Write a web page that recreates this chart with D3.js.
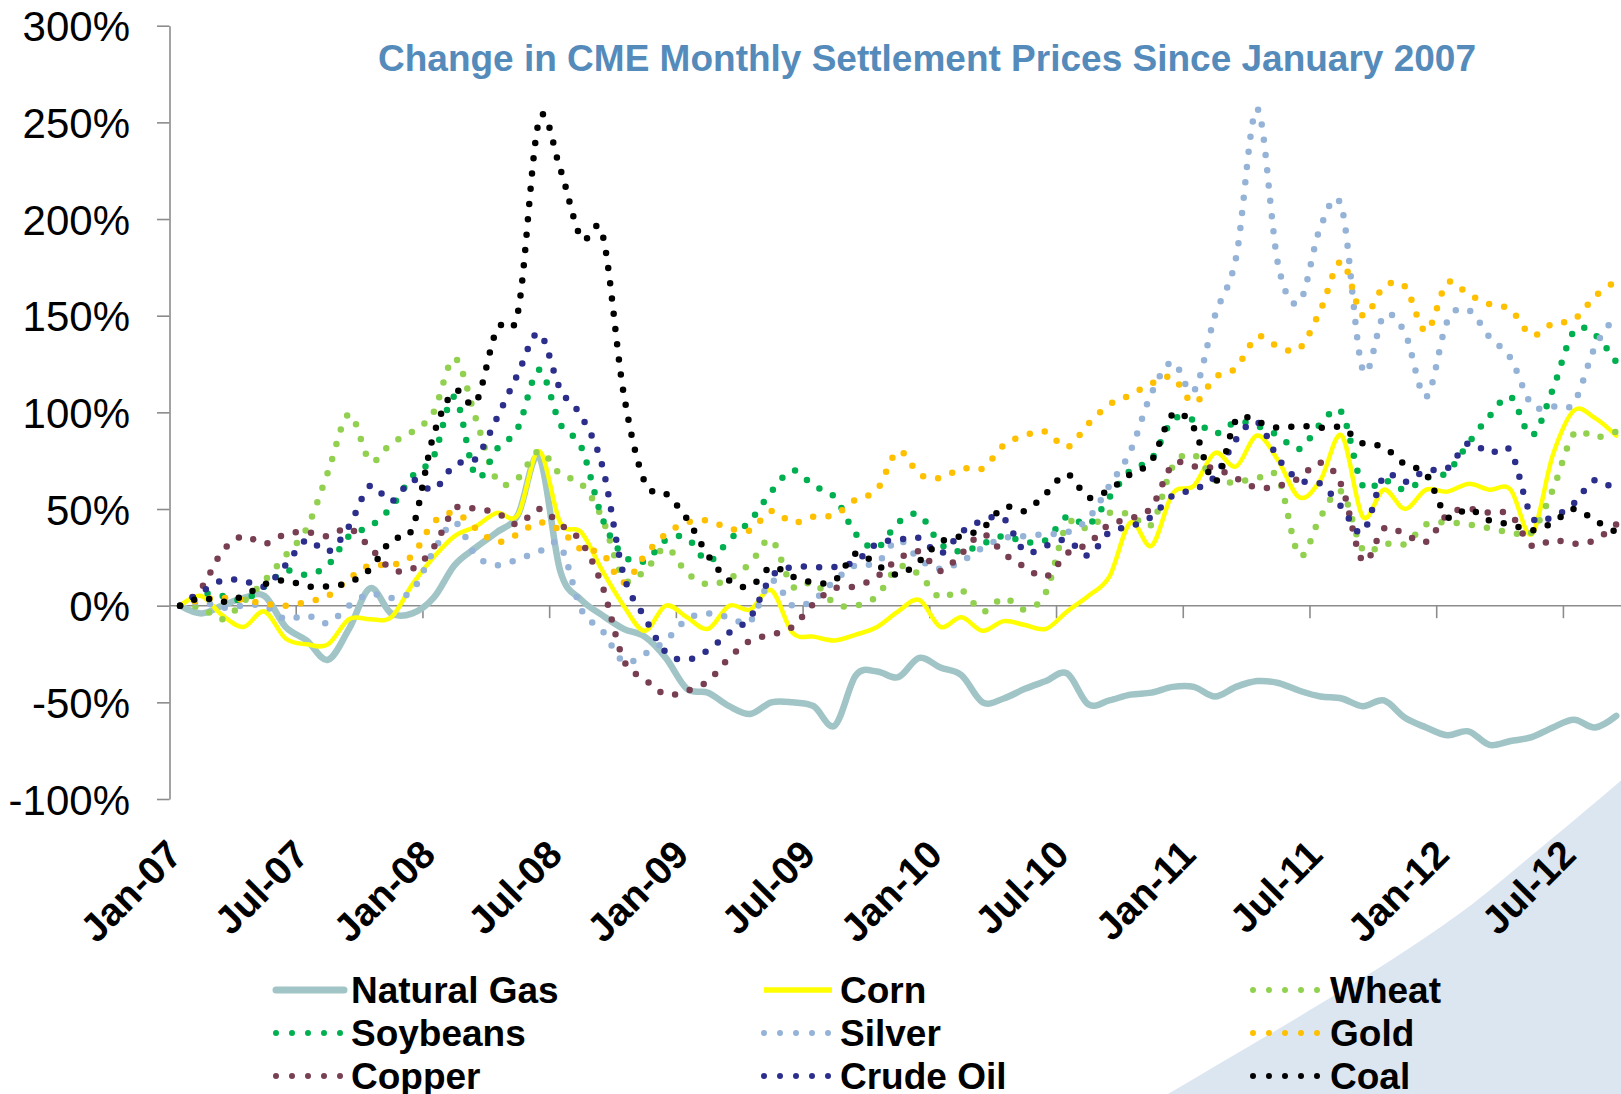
<!DOCTYPE html>
<html><head><meta charset="utf-8">
<script src="https://cdn.jsdelivr.net/npm/d3@7"></script>
<style>body{margin:0;background:#fff} svg{display:block}</style>
</head><body><svg id="chart" width="1621" height="1094"></svg>
<script>
// ---- categories & tick labels ----
const months = d3.timeMonth.range(new Date(2007,0,1), new Date(2012,9,1)).map(d3.timeFormat("%b-%y"));
const xTickLabels = ["Jan-07","Jul-07","Jan-08","Jul-08","Jan-09","Jul-09","Jan-10","Jul-10","Jan-11","Jul-11","Jan-12","Jul-12"];
const yTicks = [-100,-50,0,50,100,150,200,250,300];

// ---- series values (% change since Jan 2007), Jan-07 .. Sep-12 ----
const naturalGas = [0,-4,0,4,5,-11,-18,-28,-12,9,-4,-4,4,21,30,38,47,77,18,3,-5,-12,-16,-27,-43,-45,-52,-56,-50,-50,-52,-62,-36,-34,-37,-27,-32,-36,-50,-48,-43,-39,-35,-51,-49,-46,-45,-42,-42,-47,-42,-39,-40,-44,-47,-48,-52,-49,-58,-63,-67,-65,-72,-70,-68,-63,-59,-63,-57];
const corn = [0,5,-5,-11,-3,-17,-20,-20,-7,-7,-6,11,25,36,41,48,47,80,43,38,18,0,-13,0,-6,-12,0,-2,8,-14,-16,-18,-15,-11,-3,3,-11,-6,-13,-8,-10,-12,-3,5,15,43,31,58,62,79,72,88,75,56,65,88,46,60,50,60,59,63,60,60,37,78,101,97,88];
const wheat = [0,-1,-7,2,13,26,40,69,99,75,84,90,100,128,97,65,66,80,68,63,45,14,18,30,17,11,14,22,34,10,12,1,0,5,20,16,4,8,-3,4,-2,7,42,40,48,47,42,72,78,65,64,66,66,26,46,59,29,32,32,42,43,42,40,38,38,60,89,87,90];
const soybeans = [0,6,5,3,10,18,16,21,36,41,51,67,77,108,67,81,92,122,94,82,45,26,23,34,35,23,34,44,59,70,62,56,37,30,43,47,32,28,32,36,33,34,46,42,56,70,76,96,96,89,95,93,88,81,94,100,62,65,60,66,69,84,98,108,88,112,142,140,126];
const silver = [0,2,-1,0,0,-7,-5,-9,0,6,4,8,28,43,26,21,24,28,31,-2,-13,-29,-25,-18,-7,-4,-6,-8,13,0,3,13,21,22,34,24,19,23,30,35,36,37,38,45,62,80,110,126,111,150,180,257,176,157,196,206,122,150,141,108,147,153,139,128,104,103,105,134,150];
const gold = [0,3,4,3,1,0,2,5,14,21,21,26,43,48,40,33,37,43,39,29,27,12,26,37,43,44,40,39,49,43,46,47,55,60,80,68,66,71,71,83,88,90,82,94,104,109,115,118,105,118,123,139,134,133,153,178,150,165,165,142,167,161,156,153,140,146,148,160,168];
const copper = [0,9,28,36,32,37,38,36,40,30,19,19,30,50,50,48,42,50,42,33,10,-28,-38,-46,-44,-39,-27,-18,-15,-11,1,9,10,15,24,28,18,27,37,27,20,15,27,32,42,45,51,73,72,71,66,61,62,66,74,62,23,40,37,33,47,50,48,47,31,34,32,34,42];
const crudeOil = [0,7,13,13,10,21,34,28,41,62,54,65,60,73,76,97,120,141,112,98,72,16,-6,-24,-28,-23,-14,-6,15,20,20,20,23,32,34,35,27,38,44,45,28,31,34,26,38,41,46,57,60,67,86,95,76,65,63,51,38,67,64,70,71,84,79,80,46,46,53,65,59];
const coal = [0,4,2,5,11,13,10,10,12,19,34,40,88,111,105,143,152,251,226,190,192,110,64,58,45,26,13,10,20,15,12,13,27,21,16,23,33,36,40,51,49,58,68,56,60,68,75,99,92,64,96,95,92,93,92,92,84,82,73,68,46,50,44,42,39,43,50,44,38];

const seriesNames = ["Natural Gas","Corn","Wheat","Soybeans","Silver","Gold","Copper","Crude Oil","Coal"];
const seriesValues = [naturalGas,corn,wheat,soybeans,silver,gold,copper,crudeOil,coal];
const seriesColors = ["#a1c4c6","#ffff00","#92d050","#00b050","#95b3d7","#ffc000","#773f51","#2c2e8c","#000000"];
const seriesDotted = [false,false,true,true,true,true,true,true,true];

// ---- layout ----
const FONT = "'Liberation Sans', Arial, Helvetica, sans-serif";
const plotLeft = 169.5, band = 21.12;
const svg = d3.select("#chart");

const x = d3.scaleBand().domain(months).range([plotLeft, plotLeft + months.length * band]).padding(0);
const cx = m => x(m) + x.bandwidth() / 2;
const y = d3.scaleLinear().domain([-100, 300]).range([799, 25.7]);

// decorative swoosh (background)
svg.append("path")
  .attr("d", "M1168,1094 C1290,1022 1420,948 1490,890 C1550,840 1590,808 1640,764 L1640,1094 Z")
  .attr("fill", "#dce6f0");

// title
svg.append("text")
  .attr("x", 927).attr("y", 71)
  .attr("text-anchor", "middle")
  .attr("font-family", FONT).attr("font-weight", "bold").attr("font-size", 37)
  .attr("fill", "#558bba")
  .text("Change in CME Monthly Settlement Prices Since January 2007");

// y axis
const yAxis = svg.append("g")
  .attr("transform", `translate(${plotLeft},0)`)
  .call(d3.axisLeft(y).tickValues(yTicks).tickSize(12.5).tickSizeOuter(0).tickPadding(27).tickFormat(d => d + "%"));
yAxis.select(".domain").attr("stroke", "#8c8c8c").attr("stroke-width", 1.6);
yAxis.selectAll(".tick line").attr("stroke", "#8c8c8c").attr("stroke-width", 1.6);
yAxis.selectAll(".tick text")
  .attr("font-family", FONT).attr("font-size", 42).attr("fill", "#000").attr("dy", "0.36em");

// x axis line at 0%
const xAxis = svg.append("g");
xAxis.append("line")
  .attr("x1", plotLeft).attr("x2", x.range()[1])
  .attr("y1", y(0)).attr("y2", y(0))
  .attr("stroke", "#8c8c8c").attr("stroke-width", 1.6);
const boundaryMonths = months.filter((m, i) => i > 0 && i % 6 === 0);
xAxis.selectAll("line.tick").data(boundaryMonths).join("line")
  .attr("class", "tick")
  .attr("x1", d => x(d)).attr("x2", d => x(d))
  .attr("y1", y(0)).attr("y2", y(0) + 12.5)
  .attr("stroke", "#8c8c8c").attr("stroke-width", 1.6);

// x tick labels (rotated, at bottom)
svg.append("g").selectAll("text").data(xTickLabels).join("text")
  .attr("transform", d => `translate(${cx(d) + 4},857) rotate(-45)`)
  .attr("text-anchor", "end")
  .attr("font-family", FONT).attr("font-weight", "bold").attr("font-size", 39)
  .attr("fill", "#000")
  .text(d => d);

// series lines
const line = d3.line()
  .x((d, i) => cx(months[i]))
  .y(d => y(d))
  .curve(d3.curveCardinal.tension(0));

const gLines = svg.append("g");
seriesValues.forEach((vals, si) => {
  const p = gLines.append("path")
    .attr("d", line(vals))
    .attr("fill", "none")
    .attr("stroke", seriesColors[si]);
  if (seriesDotted[si]) {
    p.attr("stroke-width", 6.5).attr("stroke-linecap", "round").attr("stroke-dasharray", "0 15.3");
  } else {
    p.attr("stroke-width", si === 0 ? 6.5 : 4.5).attr("stroke-linejoin", "round").attr("stroke-linecap", "round");
  }
});

// legend
const legCols = [274, 762, 1251];
const legText = [351, 840, 1330];
const legRows = [990, 1033, 1076];
const leg = svg.append("g");
seriesNames.forEach((name, i) => {
  const c = i % 3, r = Math.floor(i / 3);
  const x0 = legCols[c], yy = legRows[r];
  if (seriesDotted[i]) {
    leg.append("line")
      .attr("x1", x0 + 2).attr("x2", x0 + 66.5).attr("y1", yy).attr("y2", yy)
      .attr("stroke", seriesColors[i]).attr("stroke-width", 6).attr("stroke-linecap", "round")
      .attr("stroke-dasharray", "0 16");
  } else {
    leg.append("line")
      .attr("x1", x0 + 2).attr("x2", x0 + 70).attr("y1", yy).attr("y2", yy)
      .attr("stroke", seriesColors[i]).attr("stroke-width", i === 0 ? 7 : 5.5)
      .attr("stroke-linecap", i === 0 ? "round" : "butt");
  }
  leg.append("text")
    .attr("x", legText[c]).attr("y", yy + 13)
    .attr("font-family", FONT).attr("font-weight", "bold").attr("font-size", 37)
    .attr("fill", "#000")
    .text(name);
});
</script>
</body></html>
